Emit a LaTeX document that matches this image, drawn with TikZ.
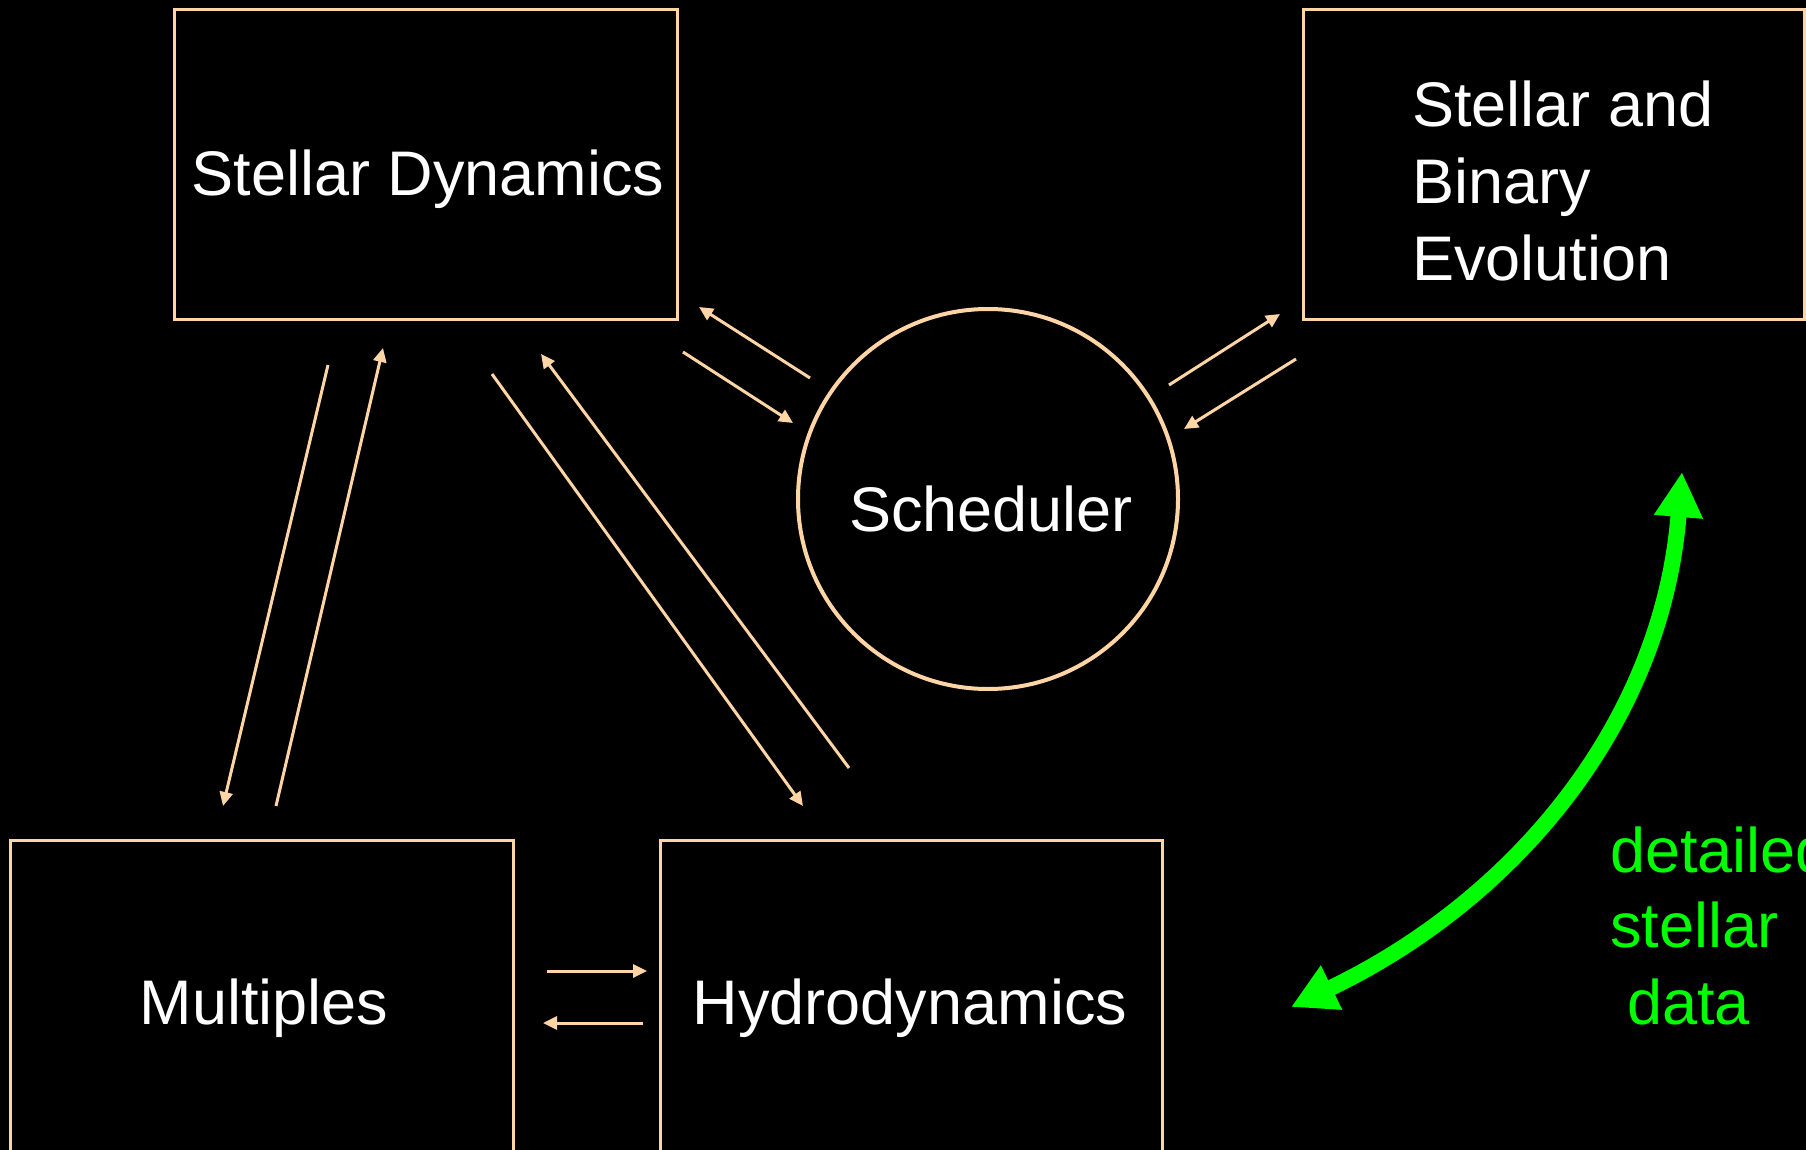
\documentclass[tikz,border=0pt]{standalone}
\usepackage{fontspec}
\setmainfont{Liberation Sans}
\usetikzlibrary{arrows.meta}
\definecolor{peach}{RGB}{255,213,165}
\definecolor{brightgreen}{RGB}{0,255,0}
\begin{document}
\begin{tikzpicture}[x=1pt,y=-1pt,
  box/.style={draw=peach,line width=3pt,inner sep=0pt,minimum height=309pt},
  lowbox/.style={draw=peach,line width=3pt,inner sep=0pt,minimum height=325pt},
  lbl/.style={text=white,font=\fontsize{63}{76}\selectfont,inner sep=0pt},
  glbl/.style={text=brightgreen,font=\fontsize{63}{76}\selectfont,inner sep=0pt,anchor=base west},
  flow/.style={draw=peach,line width=3pt,-{Triangle[length=14pt,width=13pt]}},
  bigflow/.style={draw=brightgreen,line width=16pt,{Triangle[length=45pt,width=46pt]}-{Triangle[length=45pt,width=46pt]}},
]
\fill[black] (0,0) rectangle (1806,1150);
\useasboundingbox (0,0) rectangle (1806,1150);

% components
\node[box,minimum width=503pt] (sd) at (425.5,164.5) {};
\node[box,minimum width=501pt] (sbe) at (1553.5,164.5) {};
\node[lowbox,minimum width=503pt] (mult) at (261.5,1002.5) {};
\node[lowbox,minimum width=502pt] (hydro) at (911,1002.5) {};
\node[circle,draw=peach,line width=4pt,minimum size=380pt,inner sep=0pt] (sched) at (988,499) {};

% labels
\node[lbl,anchor=base] (tsd) at (428,196) {Stellar Dynamics};
\node[lbl,anchor=base west] (tsbe1) at (1412,127) {Stellar and};
\node[lbl,anchor=base west] (tsbe2) at (1412,204) {Binary};
\node[lbl,anchor=base west] (tsbe3) at (1412,280) {Evolution};
\node[lbl,anchor=base] (tsched) at (991,531) {Scheduler};
\node[lbl,anchor=base] (tmult) at (264,1024) {Multiples};
\node[lbl,anchor=base] (thydro) at (910,1024) {Hydrodynamics};
\node[glbl] (g1) at (1610,872) {detailed};
\node[glbl] (g2) at (1610,947) {stellar};
\node[glbl] (g3) at (1627,1024) {data};

% arrow end points
\coordinate (sdA1) at (810,378);  \coordinate (sdA2) at (699,307);
\coordinate (sdB1) at (683,352);  \coordinate (sdB2) at (793,423);
\coordinate (seA1) at (1169,385); \coordinate (seA2) at (1280,314);
\coordinate (seB1) at (1296,359); \coordinate (seB2) at (1184,429);
\coordinate (smA1) at (328,365);  \coordinate (smA2) at (223,806);
\coordinate (smB1) at (276,806);  \coordinate (smB2) at (383,348);
\coordinate (shA1) at (492,374);  \coordinate (shA2) at (803,806);
\coordinate (shB1) at (849,768);  \coordinate (shB2) at (541,354);
\coordinate (mhA1) at (547,971);  \coordinate (mhA2) at (647,971);
\coordinate (mhB1) at (643,1023); \coordinate (mhB2) at (543,1023);
\coordinate (gTop) at (1682,472); \coordinate (gBot) at (1291,1007);

% data flows
\draw[flow] (sdA1) -- (sdA2);
\draw[flow] (sdB1) -- (sdB2);
\draw[flow] (seA1) -- (seA2);
\draw[flow] (seB1) -- (seB2);
\draw[flow] (smA1) -- (smA2);
\draw[flow] (smB1) -- (smB2);
\draw[flow] (shA1) -- (shA2);
\draw[flow] (shB1) -- (shB2);
\draw[flow] (mhA1) -- (mhA2);
\draw[flow] (mhB1) -- (mhB2);

% stellar data exchange
\draw[bigflow] (gBot) .. controls (1516,899) and (1662,722) .. (gTop);
\end{tikzpicture}
\end{document}
